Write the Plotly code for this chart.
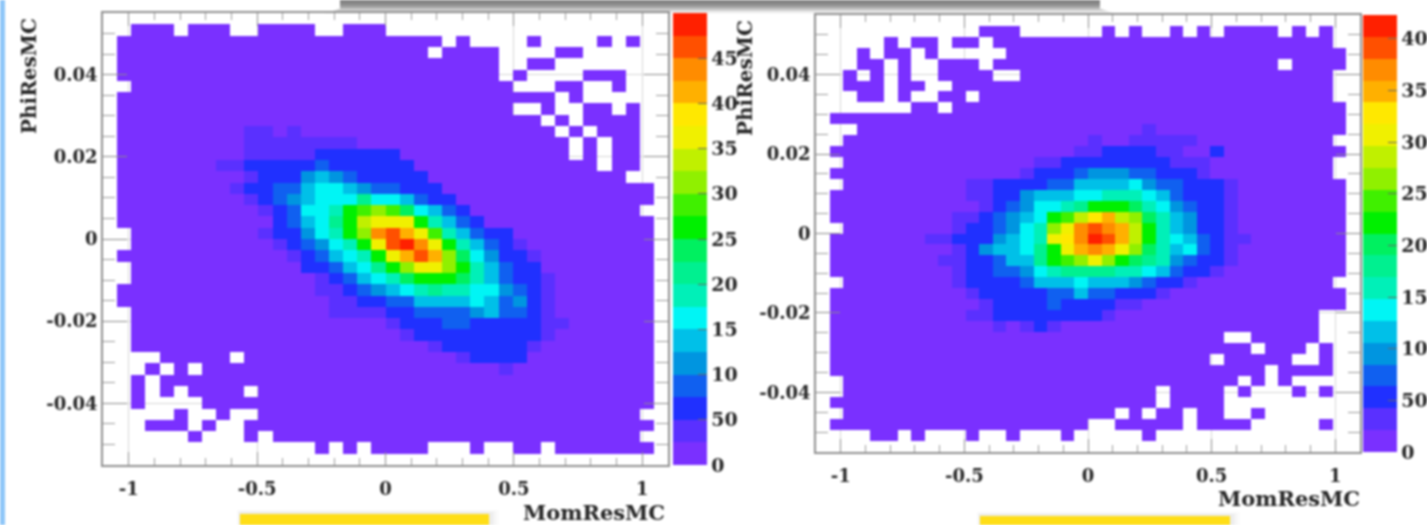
import re
import numpy as np
import plotly.graph_objects as go

W, H = 1427, 525
NBINS = 40
X_RANGE = 1.1
Y_RANGE = 0.055

X_TICKS = [-1, -0.5, 0, 0.5, 1]
X_LABELS = ["-1", "-0.5", "0", "0.5", "1"]
Y_TICKS = [0.04, 0.02, 0, -0.02, -0.04]
Y_LABELS = ["0.04", "0.02", "0", "-0.02", "-0.04"]
L_CB_TICKS = [0, 50, 100, 150, 200, 250, 300, 350, 400, 450]
L_CB_LABELS = ["0", "50", "10", "15", "20", "25", "30", "35", "40", "45"]
R_CB_TICKS = [0, 50, 100, 150, 200, 250, 300, 350, 400]
R_CB_LABELS = ["0", "50", "10", "15", "20", "25", "30", "35", "40"]
L_ZMAX = 500
R_ZMAX = 423

BAND_COLORS = ["#7A30FF", "#5A30FF", "#2030FF", "#1060F0", "#0095E0", "#00C0E8",
               "#00F5F5", "#00F0B8", "#00F090", "#00F060", "#00F000", "#40F000",
               "#90F000", "#C0F000", "#F0F000", "#FFE800", "#FFB000", "#FF8C00",
               "#FF5000", "#FF2000"]

# occupied bins, top row first, run-length coded: "." empty, "#" filled
L_MASK = ["40.", "2.3#1.3#2.4#2.3#20.", "1.23#1.1#4.1#4.1#1.1#2.", "1.22#1.4#4.2#6.",
          "1.27#2.2#8.", "1.27#1.1#4.3#3.", "2.27#3.2#2.1#3.", "1.31#1.1#6.",
          "1.28#2.1#2.2#1.1#2.", "1.30#1.1#1.4#2.", "1.31#1.1#1.3#2.", "1.32#1.1#1.2#2.",
          "1.32#1.1#1.2#2.", "1.34#1.2#2.", "1.36#3.", "1.38#1.",
          "1.38#1.", "1.37#2.", "1.38#1.", "2.37#1.",
          "2.37#1.", "1.38#1.", "2.37#1.", "2.37#1.",
          "1.38#1.", "1.38#1.", "2.37#1.", "2.37#1.",
          "2.37#1.", "2.37#1.", "4.5#1.29#1.", "3.1#1.1#1.32#1.",
          "2.1#1.35#1.", "2.1#1.1#1.4#1.28#1.", "2.1#4.32#1.", "5.1#2.1#2.27#2.",
          "3.3#1.1#2.29#1.", "6.1#3.1#1.26#2.", "15.1#1.1#1.4#3.1#2.2#1.7#1.", "40."]

R_MASK = ["40.", "12.3#6.1#1.1#2.1#1.1#1.4#1.1#1.1#2.", "5.1#1.2#1.2#1.25#2.", "3.1#1.2#1.1#5.25#1.",
          "3.2#1.1#2.3#1.21#1.4#1.", "2.1#1.1#1.1#2.4#2.23#2.", "2.3#1.2#2.28#2.", "3.2#1.1#2.2#1.26#2.",
          "7.2#1.29#1.", "1.38#1.", "3.36#1.", "2.36#2.",
          "1.38#1.", "2.36#2.", "1.37#2.", "2.37#1.",
          "1.38#1.", "1.38#1.", "1.38#1.", "2.37#1.",
          "1.38#1.", "1.38#1.", "1.38#1.", "1.38#1.",
          "2.36#2.", "1.38#1.", "1.38#1.", "1.36#3.",
          "1.36#3.", "1.29#2.5#3.", "1.31#1.3#1.1#2.", "1.28#1.5#2.1#2.",
          "1.32#1.4#2.", "2.29#1.1#1.1#5.", "2.23#1.4#1.1#3.1#1.1#2.", "1.24#1.4#10.",
          "2.20#1.1#1.2#1.2#2.1#7.", "1.19#2.5#1.4#5.1#2.", "4.2#1.1#3.1#2.1#3.1#5.1#15.", "40."]

# colour band of each bin (base 20), given as row -> (first column, bands); other bins are band 0
L_HEAT = {10: (10, "1101"), 11: (10, "11111111"), 12: (10, "11111222222"),
          13: (8, "11222223222222"), 14: (10, "1222454322222"),
          15: (9, "122335665433222"), 16: (10, "123456668665322"),
          17: (11, "123667abcb96532"), 18: (12, "23568adeeea7532"),
          19: (11, "122467achigeb75322"), 20: (12, "123467aeijhea75321"),
          21: (13, "123567aegigc964221"), 22: (14, "223568aceeca75322"),
          23: (15, "1235679aaa9753221"), 24: (15, "11234567877664321"),
          25: (16, "1122335555653421"), 26: (16, "1111223333453321"),
          27: (20, "1222332222211"), 28: (21, "12222222221"),
          29: (23, "12222221"), 30: (25, "12222"), 31: (28, "1")}

R_HEAT = {10: (24, "1"), 11: (20, "10011111"), 12: (19, "11222211002"),
          13: (16, "1122222222111"), 14: (15, "12223444332221"),
          15: (11, "11222233555564332221"), 16: (11, "11224555667776532221"),
          17: (12, "12346678aaa97643221"), 18: (10, "1123456abdfgdc9754221"),
          19: (10, "1223467cehihgda754221"), 20: (8, "112224567efhjigda76532" + "11"),
          21: (10, "1245568aeghgec9756321"), 22: (9, "11223558abceca98743221"),
          23: (10, "12233467888877653221"), 24: (10, "122223555655543221"),
          25: (11, "122222335332221"), 26: (12, "122223222211"),
          27: (11, "11222222221"), 28: (13, "10121")}

DIGITS = "0123456789abcdefghij"


def build(mask, heat, zmax):
    z = []
    for r, code in enumerate(mask):
        cells = "".join(c * int(n) for n, c in re.findall(r"(\d+)([.#])", code))
        assert len(cells) == NBINS, (r, len(cells))
        bands = [0] * NBINS
        if r in heat:
            start, levels = heat[r]
            for k, ch in enumerate(levels):
                bands[start + k] = DIGITS.index(ch)
        z.append([None if cells[i] == "." else (bands[i] + 0.5) * zmax / 20 for i in range(NBINS)])
    return z


colorscale = []
for i, c in enumerate(BAND_COLORS):
    colorscale += [[i / 20, c], [(i + 1) / 20, c]]

edges_x = np.linspace(-X_RANGE, X_RANGE, NBINS + 1)
edges_y = np.linspace(Y_RANGE, -Y_RANGE, NBINS + 1)
cx = ((edges_x[:-1] + edges_x[1:]) / 2).tolist()
cy = ((edges_y[:-1] + edges_y[1:]) / 2).tolist()


def px(x):
    return x / W


def py(y):
    return 1 - y / H


SERIF = "DejaVu Serif"
TXT = "#262626"
tick_font = dict(family=SERIF, size=18, color=TXT, weight=700)
cb_font = dict(family=SERIF, size=19, color=TXT, weight=700)

fig = go.Figure()


def colorbar(x0, x1, y0, y1, vals, labels):
    return dict(x=px(x0), xanchor="left", xref="paper", thickness=x1 - x0, thicknessmode="pixels",
                y=py(y1), yanchor="bottom", yref="paper", len=(y1 - y0) / H, lenmode="fraction",
                xpad=0, ypad=0, outlinewidth=0, borderwidth=0, ticks="inside", ticklen=9,
                tickcolor="#666666", tickwidth=1, tickmode="array", tickvals=vals, ticktext=labels,
                tickfont=cb_font)


fig.add_trace(go.Heatmap(z=build(L_MASK, L_HEAT, L_ZMAX), x=cx, y=cy, xaxis="x", yaxis="y",
                         zmin=0, zmax=L_ZMAX, colorscale=colorscale, hoverongaps=False,
                         colorbar=colorbar(673, 707, 13, 465, L_CB_TICKS, L_CB_LABELS)))
fig.add_trace(go.Heatmap(z=build(R_MASK, R_HEAT, R_ZMAX), x=cx, y=cy, xaxis="x2", yaxis="y2",
                         zmin=0, zmax=R_ZMAX, colorscale=colorscale, hoverongaps=False,
                         colorbar=colorbar(1363, 1397, 15, 452, R_CB_TICKS, R_CB_LABELS)))


def xaxis(x0, x1, anchor):
    return dict(domain=[px(x0), px(x1)], range=[-X_RANGE, X_RANGE], anchor=anchor,
                tickmode="array", tickvals=X_TICKS, ticktext=X_LABELS, tickfont=tick_font,
                ticks="inside", ticklen=13, tickcolor="#8a8a8a", tickwidth=1,
                minor=dict(ticks="inside", ticklen=7, tick0=0, dtick=0.1, tickcolor="#9a9a9a", tickwidth=1, showgrid=False),
                showline=True, linecolor="#8f8f8f", linewidth=1.5, mirror="ticks",
                showgrid=True, gridcolor="#d6d6d6", gridwidth=1, zeroline=False,
                ticklabelstandoff=7)


def yaxis(y0, y1, anchor):
    return dict(domain=[py(y1), py(y0)], range=[-Y_RANGE, Y_RANGE], anchor=anchor,
                tickmode="array", tickvals=Y_TICKS, ticktext=Y_LABELS, tickfont=tick_font,
                ticks="inside", ticklen=24, tickcolor="#8a8a8a", tickwidth=1,
                minor=dict(ticks="inside", ticklen=12, tick0=0, dtick=0.005, tickcolor="#9a9a9a", tickwidth=1, showgrid=False),
                showline=True, linecolor="#8f8f8f", linewidth=1.5, mirror="ticks",
                showgrid=True, gridcolor="#d6d6d6", gridwidth=1, zeroline=False)


shapes = [dict(type="rect", xref="paper", yref="paper", x0=0, x1=px(5), y0=0, y1=1,
               fillcolor="#8EC6F8", line_width=0, layer="below")]
# grey shadow of a box above the plots
for i, g in enumerate(["#7f7f7f", "#818181", "#848484", "#888888", "#8e8e8e", "#969696", "#a0a0a0",
                       "#acacac", "#bababa", "#c9c9c9", "#d8d8d8", "#e6e6e6", "#f2f2f2", "#fafafa"]):
    inset = max(0, i - 8) * 3
    shapes.append(dict(type="rect", xref="paper", yref="paper", x0=px(340 - inset), x1=px(1100 + inset),
                       y0=py(i + 1), y1=py(i), fillcolor=g, line_width=0, layer="below"))
# yellow boxes cut off by the bottom edge, with their soft shadow
for x0, x1, top in [(240, 489, 514), (980, 1230, 516)]:
    for k, g in enumerate(["#fbfbfb", "#f5f5f5", "#ececec"]):
        shapes.append(dict(type="rect", xref="paper", yref="paper", x0=px(x0 - 3 + k), x1=px(x1 + 10 - 3 * k),
                           y0=0, y1=py(top - 4 + k), fillcolor=g, line_width=0, layer="below"))
    shapes.append(dict(type="rect", xref="paper", yref="paper", x0=px(x0), x1=px(x1), y0=0, y1=py(top),
                       fillcolor="#FFDE17", line_width=0, layer="below"))


def label(text, x, y, angle=0, anchor="center", size=21):
    return dict(text=text, x=px(x), y=py(y), xref="paper", yref="paper", showarrow=False,
                xanchor=anchor, yanchor="middle", textangle=angle,
                font=dict(family=SERIF, size=size, color=TXT, weight=700))


annotations = [label("PhiResMC", 29, 76, angle=-90, size=20),
               label("PhiResMC", 745, 78, angle=-90, size=20),
               label("MomResMC", 594, 512),
               label("MomResMC", 1289, 498)]

fig.update_layout(width=W, height=H, margin=dict(l=0, r=0, t=0, b=0, autoexpand=False),
                  paper_bgcolor="white", plot_bgcolor="white", showlegend=False,
                  xaxis=xaxis(103, 668, "y"), yaxis=yaxis(13, 465, "x"),
                  xaxis2=xaxis(816, 1360, "y2"), yaxis2=yaxis(15, 452, "x2"),
                  shapes=shapes, annotations=annotations)

fig.write_html("out.html", config=dict(displayModeBar=False), post_script=(
    "document.body.style.margin='0';document.body.style.overflow='hidden';"
    "var g=document.getElementsByClassName('plotly-graph-div')[0];g.style.filter='blur(1.2px)';"
))
